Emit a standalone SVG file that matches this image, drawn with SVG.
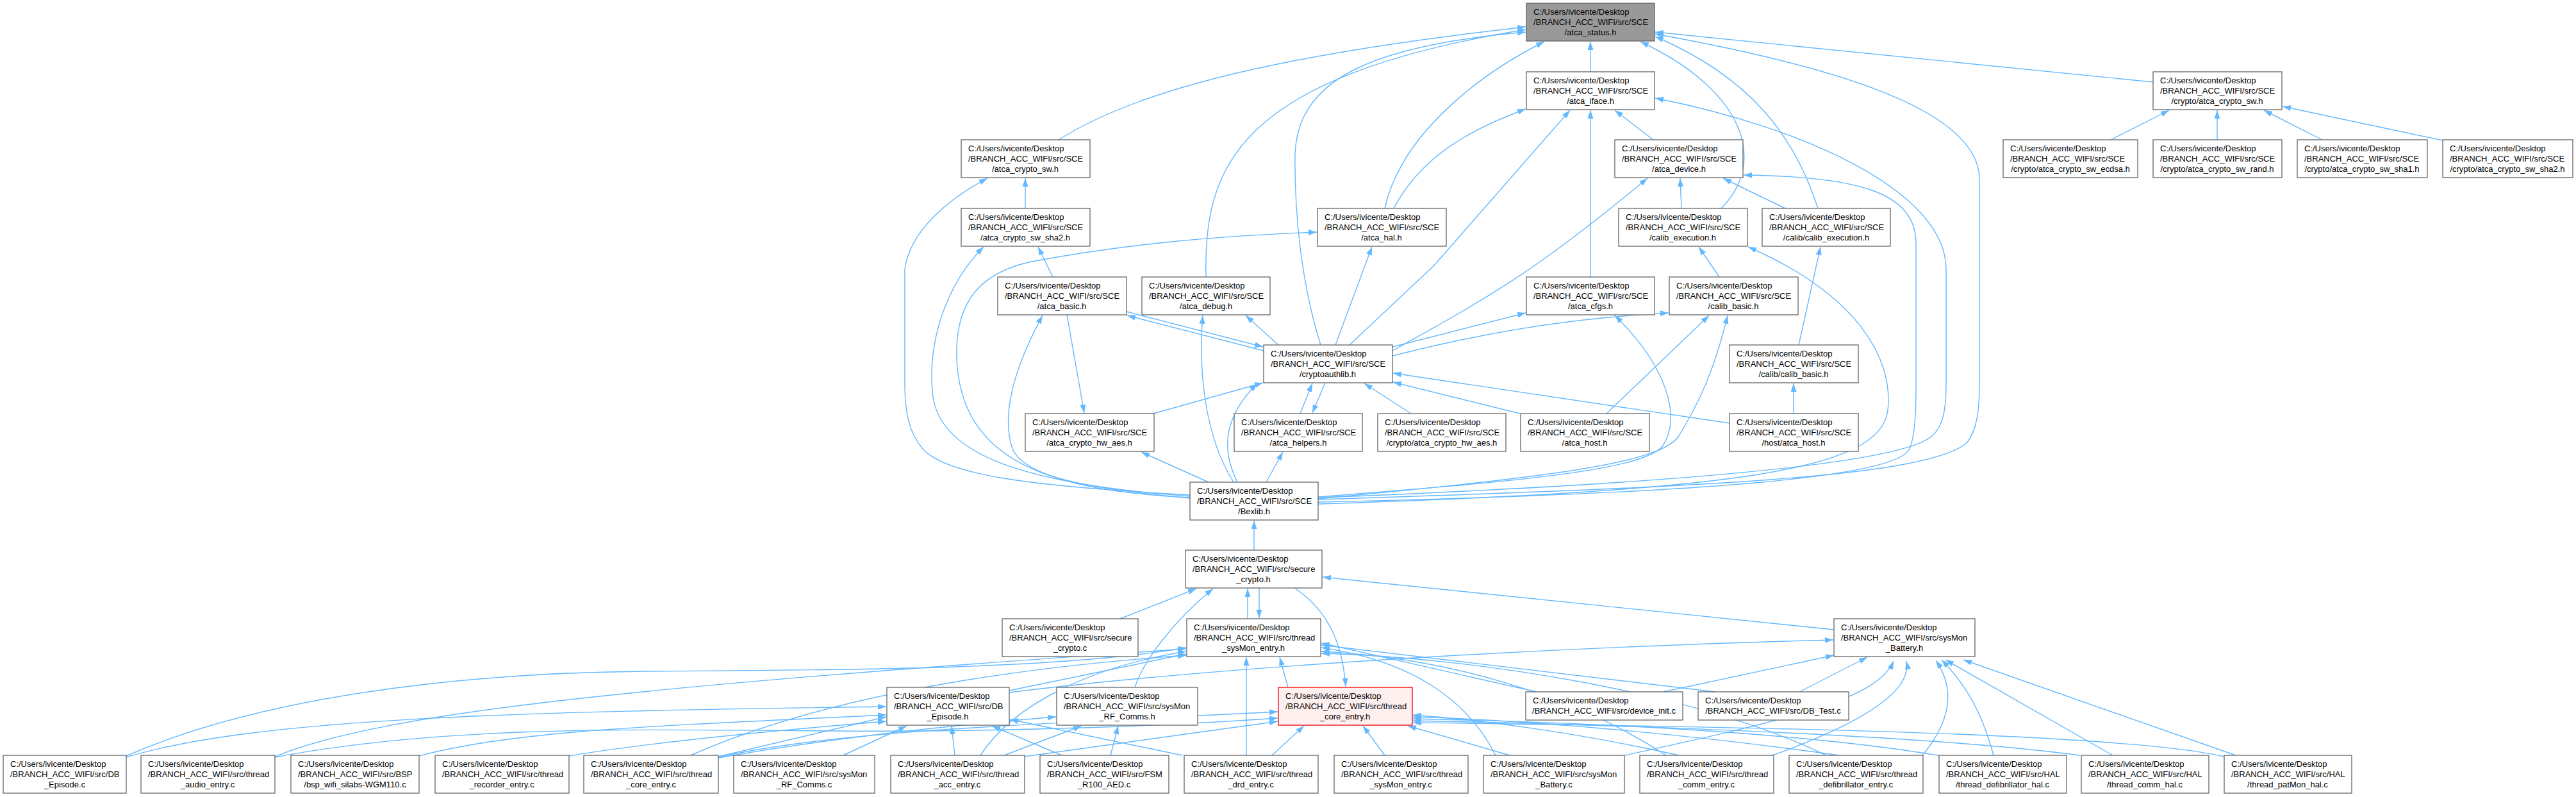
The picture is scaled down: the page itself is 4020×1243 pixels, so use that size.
<svg xmlns="http://www.w3.org/2000/svg" width="4020" height="1243" viewBox="0 0 4020 1243">
<defs>
<marker id="a" markerUnits="userSpaceOnUse" markerWidth="14" markerHeight="10" refX="13" refY="4.5" orient="auto"><path d="M0,0 L13,4.5 L0,9 z" fill="#63b8ff"/></marker>
<style>
.n rect{fill:#fff;stroke:#666;stroke-width:1.3}
.n text{font-family:"Liberation Sans",Arial,Helvetica,sans-serif;font-size:13px;fill:#000}
.n .m{text-anchor:middle}
.e path{fill:none;stroke:#63b8ff;stroke-width:1.4;marker-end:url(#a)}
</style>
</defs>
<rect width="4020" height="1243" fill="#fff"/>
<g id="edges" class="e">
<path d="M2482,112 L2482,65"/>
<path d="M3360,128 L2583,50"/>
<path d="M1652,218 C1760,150 1950,90 2381,42"/>
<path d="M1882,432 C1878,260 1930,120 2381,46"/>
<path d="M2061,538 C2030,440 2020,330 2021,240 C2025,120 2150,70 2381,50"/>
<path d="M2161,325 C2185,215 2300,120 2410,65"/>
<path d="M2686,325 C2760,250 2720,140 2560,65"/>
<path d="M2837,325 C2800,210 2730,120 2583,57"/>
<path d="M2057,779 C2650,760 3010,745 3070,690 C3085,670 3089,640 3089,600 L3089,280 C3089,180 2900,110 2583,53"/>
<path d="M2057,776 C2600,755 2965,725 3015,680 C3032,665 3037,640 3037,600 L3037,420 C3037,300 2820,200 2583,153"/>
<path d="M3294,218 L3385,172"/>
<path d="M3460,218 L3460,172"/>
<path d="M3624,218 L3533,172"/>
<path d="M3812,219 L3562,166"/>
<path d="M2580,218 L2520,172"/>
<path d="M2175,325 C2220,240 2300,200 2381,170"/>
<path d="M2106,538 L2237,415 L2450,172"/>
<path d="M2482,432 L2482,172"/>
<path d="M2173,547 C2330,460 2400,420 2571,278"/>
<path d="M2624,325 L2622,278"/>
<path d="M2786,325 L2689,278"/>
<path d="M2057,783 C2650,770 2960,745 2980,700 C2988,680 2990,650 2990,600 L2990,380 C2990,300 2900,275 2721,273"/>
<path d="M2683,432 L2651,385"/>
<path d="M2057,786 C2700,765 2935,735 2946,640 C2955,560 2900,460 2728,385"/>
<path d="M2807,538 L2841,385"/>
<path d="M2799,645 L2799,598"/>
<path d="M2507,645 L2667,492"/>
<path d="M2057,778 C2400,745 2590,725 2620,680 C2650,630 2675,580 2696,492"/>
<path d="M2057,775 C2350,752 2565,735 2595,695 C2625,650 2600,570 2520,492"/>
<path d="M2173,541 L2381,488"/>
<path d="M2173,555 C2350,510 2480,495 2604,488"/>
<path d="M2084,538 L2141,385"/>
<path d="M2029,645 L2048,598"/>
<path d="M2068,597 L2048,644"/>
<path d="M2202,645 L2129,598"/>
<path d="M2372,645 L2174,596"/>
<path d="M2699,660 L2174,582"/>
<path d="M1800,645 L1971,597"/>
<path d="M1931,752 C1905,700 1910,650 1962,598"/>
<path d="M1925,752 C1880,680 1870,580 1877,492"/>
<path d="M1995,538 L1944,492"/>
<path d="M1758,486 L1971,541"/>
<path d="M1972,547 L1759,492"/>
<path d="M1665,491 L1692,644"/>
<path d="M1886,752 L1781,705"/>
<path d="M1976,752 L2002,705"/>
<path d="M1857,777 C1700,762 1600,745 1580,700 C1560,640 1590,560 1627,492"/>
<path d="M1857,772 C1600,758 1475,740 1440,700 C1418,675 1412,640 1412,600 L1412,420 C1420,360 1480,310 1541,278"/>
<path d="M1857,774 C1600,755 1470,710 1456,620 C1445,530 1480,440 1535,385"/>
<path d="M1857,776 C1620,765 1500,710 1493,560 C1490,470 1530,425 1610,408 C1760,380 1900,368 2055,362"/>
<path d="M1643,432 L1620,385"/>
<path d="M1600,325 L1600,278"/>
<path d="M1957,858 L1957,812"/>
<path d="M1748,965 L1867,918"/>
<path d="M1947,965 L1947,918"/>
<path d="M1965,917 L1965,964"/>
<path d="M1771,1072 C1785,1030 1830,970 1893,918"/>
<path d="M2862,982 L2064,900"/>
<path d="M2020,917 C2070,950 2095,1000 2100,1071"/>
<path d="M197,1179 C400,1090 700,1050 1005,1047 C1300,1045 1650,1045 1851,1010"/>
<path d="M197,1181 C400,1120 800,1110 1383,1102"/>
<path d="M429,1180 C600,1110 1000,1070 1851,1012"/>
<path d="M429,1181 C700,1130 1000,1138 1300,1140 C1600,1142 1850,1130 1994,1120"/>
<path d="M654,1179 C800,1140 1000,1133 1383,1115"/>
<path d="M888,1179 C1000,1160 1200,1140 1383,1125"/>
<path d="M1078,1178 C1300,1080 1600,1040 1851,1022"/>
<path d="M1121,1180 L1383,1118"/>
<path d="M1121,1181 C1300,1140 1600,1130 1994,1110"/>
<path d="M1121,1182 C1300,1150 1500,1130 1648,1118"/>
<path d="M1316,1178 L1415,1132"/>
<path d="M1530,1178 C1580,1100 1700,1040 1851,1016"/>
<path d="M1490,1178 L1485,1132"/>
<path d="M1567,1178 L1688,1132"/>
<path d="M1598,1180 L1994,1125"/>
<path d="M1733,1178 L1745,1132"/>
<path d="M1657,1178 L1548,1132"/>
<path d="M1945,1178 L1945,1025"/>
<path d="M1845,1178 L1576,1122"/>
<path d="M1985,1178 L2035,1132"/>
<path d="M2161,1178 L2127,1132"/>
<path d="M2356,1178 L2197,1132"/>
<path d="M2334,1178 C2290,1090 2200,1030 2062,1010"/>
<path d="M2536,1178 C2800,1120 2930,1090 2955,1031"/>
<path d="M2600,1178 C2450,1080 2250,1025 2062,1016"/>
<path d="M2620,1178 C2450,1140 2300,1122 2205,1115"/>
<path d="M2766,1178 C2900,1130 2985,1080 2975,1031"/>
<path d="M2850,1178 C2650,1080 2300,1025 2062,1019"/>
<path d="M2870,1178 C2600,1140 2350,1122 2205,1118"/>
<path d="M3000,1178 C3040,1130 3055,1080 3021,1030"/>
<path d="M3111,1178 C3090,1100 3060,1060 3030,1029"/>
<path d="M3030,1179 C2800,1140 2450,1126 2205,1121"/>
<path d="M3297,1178 L3036,1029"/>
<path d="M3246,1178 C3000,1145 2500,1130 2205,1124"/>
<path d="M3489,1178 L3064,1029"/>
<path d="M3471,1180 C3300,1140 2600,1132 2205,1127"/>
<path d="M2398,1079 L2062,1003"/>
<path d="M2596,1079 L2862,1022"/>
<path d="M2677,1079 L2062,1006"/>
<path d="M2808,1079 L2914,1025"/>
<path d="M1575,1080 C1900,1040 2400,1010 2861,998"/>
<path d="M1575,1077 L1851,1020"/>
<path d="M2010,1072 L1997,1025"/>
</g>
<g id="n0" class="n"><rect x="2382" y="5" width="200" height="59" style="fill:#999"/><text x="2393" y="23">C:/Users/ivicente/Desktop</text><text x="2393" y="39">/BRANCH_ACC_WIFI/src/SCE</text><text class="m" x="2482" y="55">/atca_status.h</text></g>
<g id="n_iface" class="n"><rect x="2382" y="112" width="200" height="59"/><text x="2393" y="130">C:/Users/ivicente/Desktop</text><text x="2393" y="146">/BRANCH_ACC_WIFI/src/SCE</text><text class="m" x="2482" y="162">/atca_iface.h</text></g>
<g id="n_csw" class="n"><rect x="3360" y="112" width="201" height="59"/><text x="3371" y="130">C:/Users/ivicente/Desktop</text><text x="3371" y="146">/BRANCH_ACC_WIFI/src/SCE</text><text class="m" x="3460" y="162">/crypto/atca_crypto_sw.h</text></g>
<g id="n_sw" class="n"><rect x="1500" y="218" width="201" height="59"/><text x="1511" y="236">C:/Users/ivicente/Desktop</text><text x="1511" y="252">/BRANCH_ACC_WIFI/src/SCE</text><text class="m" x="1600" y="268">/atca_crypto_sw.h</text></g>
<g id="n_dev" class="n"><rect x="2520" y="218" width="200" height="59"/><text x="2531" y="236">C:/Users/ivicente/Desktop</text><text x="2531" y="252">/BRANCH_ACC_WIFI/src/SCE</text><text class="m" x="2620" y="268">/atca_device.h</text></g>
<g id="n_ecdsa" class="n"><rect x="3126" y="218" width="210" height="59"/><text x="3137" y="236">C:/Users/ivicente/Desktop</text><text x="3137" y="252">/BRANCH_ACC_WIFI/src/SCE</text><text class="m" x="3231" y="268">/crypto/atca_crypto_sw_ecdsa.h</text></g>
<g id="n_rand" class="n"><rect x="3360" y="218" width="201" height="59"/><text x="3371" y="236">C:/Users/ivicente/Desktop</text><text x="3371" y="252">/BRANCH_ACC_WIFI/src/SCE</text><text class="m" x="3460" y="268">/crypto/atca_crypto_sw_rand.h</text></g>
<g id="n_sha1" class="n"><rect x="3585" y="218" width="203" height="59"/><text x="3596" y="236">C:/Users/ivicente/Desktop</text><text x="3596" y="252">/BRANCH_ACC_WIFI/src/SCE</text><text class="m" x="3686" y="268">/crypto/atca_crypto_sw_sha1.h</text></g>
<g id="n_sha2c" class="n"><rect x="3812" y="218" width="203" height="59"/><text x="3823" y="236">C:/Users/ivicente/Desktop</text><text x="3823" y="252">/BRANCH_ACC_WIFI/src/SCE</text><text class="m" x="3913" y="268">/crypto/atca_crypto_sw_sha2.h</text></g>
<g id="n_sha2" class="n"><rect x="1500" y="325" width="201" height="59"/><text x="1511" y="343">C:/Users/ivicente/Desktop</text><text x="1511" y="359">/BRANCH_ACC_WIFI/src/SCE</text><text class="m" x="1600" y="375">/atca_crypto_sw_sha2.h</text></g>
<g id="n_hal" class="n"><rect x="2056" y="325" width="201" height="59"/><text x="2067" y="343">C:/Users/ivicente/Desktop</text><text x="2067" y="359">/BRANCH_ACC_WIFI/src/SCE</text><text class="m" x="2156" y="375">/atca_hal.h</text></g>
<g id="n_cex" class="n"><rect x="2526" y="325" width="201" height="59"/><text x="2537" y="343">C:/Users/ivicente/Desktop</text><text x="2537" y="359">/BRANCH_ACC_WIFI/src/SCE</text><text class="m" x="2626" y="375">/calib_execution.h</text></g>
<g id="n_ccex" class="n"><rect x="2750" y="325" width="200" height="59"/><text x="2761" y="343">C:/Users/ivicente/Desktop</text><text x="2761" y="359">/BRANCH_ACC_WIFI/src/SCE</text><text class="m" x="2850" y="375">/calib/calib_execution.h</text></g>
<g id="n_basic" class="n"><rect x="1557" y="432" width="201" height="59"/><text x="1568" y="450">C:/Users/ivicente/Desktop</text><text x="1568" y="466">/BRANCH_ACC_WIFI/src/SCE</text><text class="m" x="1657" y="482">/atca_basic.h</text></g>
<g id="n_debug" class="n"><rect x="1782" y="432" width="200" height="59"/><text x="1793" y="450">C:/Users/ivicente/Desktop</text><text x="1793" y="466">/BRANCH_ACC_WIFI/src/SCE</text><text class="m" x="1882" y="482">/atca_debug.h</text></g>
<g id="n_cfgs" class="n"><rect x="2382" y="432" width="200" height="59"/><text x="2393" y="450">C:/Users/ivicente/Desktop</text><text x="2393" y="466">/BRANCH_ACC_WIFI/src/SCE</text><text class="m" x="2482" y="482">/atca_cfgs.h</text></g>
<g id="n_cbasic" class="n"><rect x="2605" y="432" width="201" height="59"/><text x="2616" y="450">C:/Users/ivicente/Desktop</text><text x="2616" y="466">/BRANCH_ACC_WIFI/src/SCE</text><text class="m" x="2705" y="482">/calib_basic.h</text></g>
<g id="n_cal" class="n"><rect x="1972" y="538" width="201" height="59"/><text x="1983" y="556">C:/Users/ivicente/Desktop</text><text x="1983" y="572">/BRANCH_ACC_WIFI/src/SCE</text><text class="m" x="2072" y="588">/cryptoauthlib.h</text></g>
<g id="n_ccbasic" class="n"><rect x="2699" y="538" width="201" height="59"/><text x="2710" y="556">C:/Users/ivicente/Desktop</text><text x="2710" y="572">/BRANCH_ACC_WIFI/src/SCE</text><text class="m" x="2799" y="588">/calib/calib_basic.h</text></g>
<g id="n_hwaes" class="n"><rect x="1600" y="645" width="201" height="59"/><text x="1611" y="663">C:/Users/ivicente/Desktop</text><text x="1611" y="679">/BRANCH_ACC_WIFI/src/SCE</text><text class="m" x="1700" y="695">/atca_crypto_hw_aes.h</text></g>
<g id="n_help" class="n"><rect x="1926" y="645" width="200" height="59"/><text x="1937" y="663">C:/Users/ivicente/Desktop</text><text x="1937" y="679">/BRANCH_ACC_WIFI/src/SCE</text><text class="m" x="2026" y="695">/atca_helpers.h</text></g>
<g id="n_chwaes" class="n"><rect x="2150" y="645" width="200" height="59"/><text x="2161" y="663">C:/Users/ivicente/Desktop</text><text x="2161" y="679">/BRANCH_ACC_WIFI/src/SCE</text><text class="m" x="2250" y="695">/crypto/atca_crypto_hw_aes.h</text></g>
<g id="n_host" class="n"><rect x="2373" y="645" width="201" height="59"/><text x="2384" y="663">C:/Users/ivicente/Desktop</text><text x="2384" y="679">/BRANCH_ACC_WIFI/src/SCE</text><text class="m" x="2473" y="695">/atca_host.h</text></g>
<g id="n_hhost" class="n"><rect x="2699" y="645" width="201" height="59"/><text x="2710" y="663">C:/Users/ivicente/Desktop</text><text x="2710" y="679">/BRANCH_ACC_WIFI/src/SCE</text><text class="m" x="2799" y="695">/host/atca_host.h</text></g>
<g id="n_bex" class="n"><rect x="1857" y="752" width="200" height="59"/><text x="1868" y="770">C:/Users/ivicente/Desktop</text><text x="1868" y="786">/BRANCH_ACC_WIFI/src/SCE</text><text class="m" x="1957" y="802">/Bexlib.h</text></g>
<g id="n_sch" class="n"><rect x="1850" y="858" width="213" height="59"/><text x="1861" y="876">C:/Users/ivicente/Desktop</text><text x="1861" y="892">/BRANCH_ACC_WIFI/src/secure</text><text class="m" x="1956" y="908">_crypto.h</text></g>
<g id="n_scc" class="n"><rect x="1564" y="965" width="212" height="59"/><text x="1575" y="983">C:/Users/ivicente/Desktop</text><text x="1575" y="999">/BRANCH_ACC_WIFI/src/secure</text><text class="m" x="1670" y="1015">_crypto.c</text></g>
<g id="n_tseh" class="n"><rect x="1852" y="965" width="209" height="59"/><text x="1863" y="983">C:/Users/ivicente/Desktop</text><text x="1863" y="999">/BRANCH_ACC_WIFI/src/thread</text><text class="m" x="1956" y="1015">_sysMon_entry.h</text></g>
<g id="n_sbh" class="n"><rect x="2862" y="965" width="220" height="59"/><text x="2873" y="983">C:/Users/ivicente/Desktop</text><text x="2873" y="999">/BRANCH_ACC_WIFI/src/sysMon</text><text class="m" x="2972" y="1015">_Battery.h</text></g>
<g id="n_dbeh" class="n"><rect x="1384" y="1072" width="191" height="59"/><text x="1395" y="1090">C:/Users/ivicente/Desktop</text><text x="1395" y="1106">/BRANCH_ACC_WIFI/src/DB</text><text class="m" x="1479" y="1122">_Episode.h</text></g>
<g id="n_rfh" class="n"><rect x="1649" y="1072" width="220" height="59"/><text x="1660" y="1090">C:/Users/ivicente/Desktop</text><text x="1660" y="1106">/BRANCH_ACC_WIFI/src/sysMon</text><text class="m" x="1759" y="1122">_RF_Comms.h</text></g>
<g id="n_tceh" class="n"><rect x="1995" y="1072" width="209" height="59" style="fill:#fff0f0;stroke:#f00"/><text x="2006" y="1090">C:/Users/ivicente/Desktop</text><text x="2006" y="1106">/BRANCH_ACC_WIFI/src/thread</text><text class="m" x="2099" y="1122">_core_entry.h</text></g>
<g id="n_dinit" class="n"><rect x="2381" y="1079" width="245" height="44"/><text x="2392" y="1097">C:/Users/ivicente/Desktop</text><text class="m" x="2503" y="1113">/BRANCH_ACC_WIFI/src/device_init.c</text></g>
<g id="n_dbtest" class="n"><rect x="2650" y="1079" width="235" height="44"/><text x="2661" y="1097">C:/Users/ivicente/Desktop</text><text class="m" x="2767" y="1113">/BRANCH_ACC_WIFI/src/DB_Test.c</text></g>
<g id="b1" class="n"><rect x="5" y="1178" width="192" height="59"/><text x="16" y="1196">C:/Users/ivicente/Desktop</text><text x="16" y="1212">/BRANCH_ACC_WIFI/src/DB</text><text class="m" x="101" y="1228">_Episode.c</text></g>
<g id="b2" class="n"><rect x="220" y="1178" width="209" height="59"/><text x="231" y="1196">C:/Users/ivicente/Desktop</text><text x="231" y="1212">/BRANCH_ACC_WIFI/src/thread</text><text class="m" x="324" y="1228">_audio_entry.c</text></g>
<g id="b3" class="n"><rect x="454" y="1178" width="200" height="59"/><text x="465" y="1196">C:/Users/ivicente/Desktop</text><text x="465" y="1212">/BRANCH_ACC_WIFI/src/BSP</text><text class="m" x="554" y="1228">/bsp_wifi_silabs-WGM110.c</text></g>
<g id="b4" class="n"><rect x="679" y="1178" width="209" height="59"/><text x="690" y="1196">C:/Users/ivicente/Desktop</text><text x="690" y="1212">/BRANCH_ACC_WIFI/src/thread</text><text class="m" x="783" y="1228">_recorder_entry.c</text></g>
<g id="b5" class="n"><rect x="911" y="1178" width="210" height="59"/><text x="922" y="1196">C:/Users/ivicente/Desktop</text><text x="922" y="1212">/BRANCH_ACC_WIFI/src/thread</text><text class="m" x="1016" y="1228">_core_entry.c</text></g>
<g id="b6" class="n"><rect x="1145" y="1178" width="220" height="59"/><text x="1156" y="1196">C:/Users/ivicente/Desktop</text><text x="1156" y="1212">/BRANCH_ACC_WIFI/src/sysMon</text><text class="m" x="1255" y="1228">_RF_Comms.c</text></g>
<g id="b7" class="n"><rect x="1390" y="1178" width="209" height="59"/><text x="1401" y="1196">C:/Users/ivicente/Desktop</text><text x="1401" y="1212">/BRANCH_ACC_WIFI/src/thread</text><text class="m" x="1494" y="1228">_acc_entry.c</text></g>
<g id="b8" class="n"><rect x="1623" y="1178" width="201" height="59"/><text x="1634" y="1196">C:/Users/ivicente/Desktop</text><text x="1634" y="1212">/BRANCH_ACC_WIFI/src/FSM</text><text class="m" x="1723" y="1228">_R100_AED.c</text></g>
<g id="b9" class="n"><rect x="1848" y="1178" width="209" height="59"/><text x="1859" y="1196">C:/Users/ivicente/Desktop</text><text x="1859" y="1212">/BRANCH_ACC_WIFI/src/thread</text><text class="m" x="1952" y="1228">_drd_entry.c</text></g>
<g id="b10" class="n"><rect x="2082" y="1178" width="209" height="59"/><text x="2093" y="1196">C:/Users/ivicente/Desktop</text><text x="2093" y="1212">/BRANCH_ACC_WIFI/src/thread</text><text class="m" x="2186" y="1228">_sysMon_entry.c</text></g>
<g id="b11" class="n"><rect x="2315" y="1178" width="220" height="59"/><text x="2326" y="1196">C:/Users/ivicente/Desktop</text><text x="2326" y="1212">/BRANCH_ACC_WIFI/src/sysMon</text><text class="m" x="2425" y="1228">_Battery.c</text></g>
<g id="b12" class="n"><rect x="2559" y="1178" width="209" height="59"/><text x="2570" y="1196">C:/Users/ivicente/Desktop</text><text x="2570" y="1212">/BRANCH_ACC_WIFI/src/thread</text><text class="m" x="2663" y="1228">_comm_entry.c</text></g>
<g id="b13" class="n"><rect x="2792" y="1178" width="209" height="59"/><text x="2803" y="1196">C:/Users/ivicente/Desktop</text><text x="2803" y="1212">/BRANCH_ACC_WIFI/src/thread</text><text class="m" x="2896" y="1228">_defibrillator_entry.c</text></g>
<g id="b14" class="n"><rect x="3026" y="1178" width="199" height="59"/><text x="3037" y="1196">C:/Users/ivicente/Desktop</text><text x="3037" y="1212">/BRANCH_ACC_WIFI/src/HAL</text><text class="m" x="3125" y="1228">/thread_defibrillator_hal.c</text></g>
<g id="b15" class="n"><rect x="3248" y="1178" width="199" height="59"/><text x="3259" y="1196">C:/Users/ivicente/Desktop</text><text x="3259" y="1212">/BRANCH_ACC_WIFI/src/HAL</text><text class="m" x="3347" y="1228">/thread_comm_hal.c</text></g>
<g id="b16" class="n"><rect x="3471" y="1178" width="199" height="59"/><text x="3482" y="1196">C:/Users/ivicente/Desktop</text><text x="3482" y="1212">/BRANCH_ACC_WIFI/src/HAL</text><text class="m" x="3570" y="1228">/thread_patMon_hal.c</text></g>
</svg>
